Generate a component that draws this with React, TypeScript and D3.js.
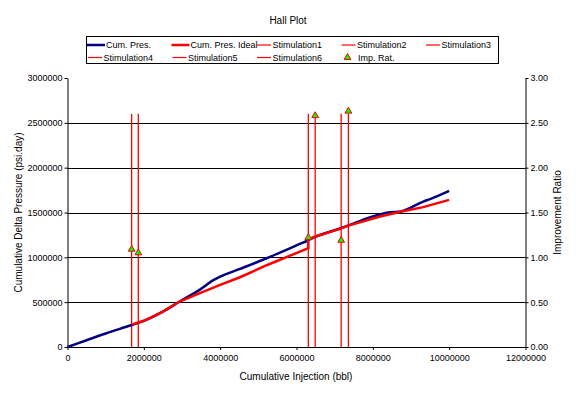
import React, { useEffect, useRef } from 'react';
import * as d3 from 'd3';

// Cum. Pres. (blue)
const presInj = [0, 500000, 1000000, 1680000, 2000000, 2500000, 2950000, 3470000, 3820000, 4000000, 4500000, 5220000, 6090000, 6280000, 6490000, 7140000, 7500000, 8000000, 8400000, 8760000, 9320000, 9500000, 10000000];
const presVal = [0, 75000, 150000, 245000, 292000, 395000, 510000, 640000, 745000, 785000, 868000, 990000, 1150000, 1185000, 1228000, 1322000, 1378000, 1455000, 1500000, 1515000, 1622000, 1650000, 1742000];

// Cum. Pres. Ideal (red)
const idealInj = [1680000, 2000000, 2500000, 2950000, 3470000, 4000000, 4520000, 5220000, 6090000, 6310000, 6310000, 6490000, 7140000, 7360000, 8190000, 8760000, 9320000, 10000000];
const idealVal = [250000, 292000, 395000, 510000, 600000, 692000, 778000, 912000, 1064000, 1102000, 1200000, 1232000, 1318000, 1354000, 1455000, 1511000, 1560000, 1641000];

// Stimulation1..6 vertical markers and improvement ratios
const stimNames = ['Stimulation1', 'Stimulation2', 'Stimulation3', 'Stimulation4', 'Stimulation5', 'Stimulation6'];
const stimInj = [1680000, 1855000, 6310000, 6490000, 7170000, 7360000];
const stimTop = 2600000;
const impRatio = [1.09, 1.05, 1.22, 2.58, 1.19, 2.63];

const xTicks = [0, 2000000, 4000000, 6000000, 8000000, 10000000, 12000000];
const yTicks = [0, 500000, 1000000, 1500000, 2000000, 2500000, 3000000];
const rTicks = [0, 0.5, 1, 1.5, 2, 2.5, 3];

const FONT = '"Liberation Sans", Arial, sans-serif';

const HallPlot: React.FC = () => {
  const ref = useRef<SVGSVGElement | null>(null);

  useEffect(() => {
    const width = 576;
    const height = 394;
    const svg = d3.select(ref.current)
      .attr('width', width)
      .attr('height', height)
      .style('position', 'absolute')
      .style('left', '0px')
      .style('top', '0px')
      .style('background', '#ffffff');
    svg.selectAll('*').remove();

    const x = d3.scaleLinear().domain([0, 12000000]).range([67.5, 525.5]);
    const y = d3.scaleLinear().domain([0, 3000000]).range([347, 78]);
    const yR = d3.scaleLinear().domain([0, 3]).range([347, 78]);

    // title
    svg.append('text')
      .attr('x', 288).attr('y', 24)
      .attr('text-anchor', 'middle')
      .attr('font-family', FONT).attr('font-size', 10)
      .text('Hall Plot');

    // gridlines
    svg.append('g')
      .selectAll('line')
      .data(yTicks.filter(d => d > 0 && d < 3000000))
      .join('line')
        .attr('x1', x(0)).attr('x2', x(12000000))
        .attr('y1', d => Math.round(y(d)) + 0.5).attr('y2', d => Math.round(y(d)) + 0.5)
        .attr('stroke', '#000').attr('stroke-width', 1);

    // axes
    const styleAxis = (g: d3.Selection<SVGGElement, unknown, null, undefined>) => {
      g.attr('font-family', FONT).attr('font-size', 9);
      g.selectAll('path, line').attr('stroke', '#000');
      g.selectAll('text').attr('fill', '#000');
    };

    svg.append('g')
      .attr('transform', `translate(${x(0)},0)`)
      .call(d3.axisLeft(y).tickValues(yTicks).tickFormat(d3.format('d')).tickSize(3).tickSizeOuter(0).tickPadding(2))
      .call(styleAxis);

    svg.append('g')
      .attr('transform', `translate(${x(12000000)},0)`)
      .call(d3.axisRight(yR).tickValues(rTicks).tickFormat(d3.format('.2f')).tickSize(3).tickSizeOuter(0).tickPadding(2))
      .call(styleAxis);

    svg.append('g')
      .attr('transform', `translate(0,${y(0)})`)
      .call(d3.axisBottom(x).tickValues(xTicks).tickFormat(d3.format('d')).tickSize(3).tickSizeOuter(0).tickPadding(5))
      .call(styleAxis);

    // axis titles
    svg.append('text')
      .attr('x', 296).attr('y', 380)
      .attr('text-anchor', 'middle')
      .attr('font-family', FONT).attr('font-size', 10)
      .text('Cumulative Injection (bbl)');

    svg.append('text')
      .attr('transform', `translate(22,${(y(0) + y(3000000)) / 2}) rotate(-90)`)
      .attr('text-anchor', 'middle')
      .attr('font-family', FONT).attr('font-size', 10)
      .text('Cumulative Delta Pressure (psi.day)');

    svg.append('text')
      .attr('transform', `translate(561,${(y(0) + y(3000000)) / 2}) rotate(-90)`)
      .attr('text-anchor', 'middle')
      .attr('font-family', FONT).attr('font-size', 10)
      .text('Improvement Ratio');

    // stimulation lines
    svg.append('g')
      .selectAll('line')
      .data(stimInj)
      .join('line')
        .attr('x1', d => x(d)).attr('x2', d => x(d))
        .attr('y1', y(0)).attr('y2', y(stimTop))
        .attr('stroke', '#ff0000').attr('stroke-width', 1.3);

    const line = d3.line<[number, number]>()
      .x(d => x(d[0]))
      .y(d => y(d[1]));

    svg.append('path')
      .datum(presInj.map((v, i) => [v, presVal[i]] as [number, number]))
      .attr('d', line.curve(d3.curveMonotoneX))
      .attr('fill', 'none')
      .attr('stroke', '#000080')
      .attr('stroke-width', 2.5);

    svg.append('path')
      .datum(idealInj.map((v, i) => [v, idealVal[i]] as [number, number]))
      .attr('d', line.curve(d3.curveLinear))
      .attr('fill', 'none')
      .attr('stroke', '#ff0000')
      .attr('stroke-width', 2.5);

    // improvement ratio markers
    const tri = d3.symbol().type(d3.symbolTriangle).size(20);
    svg.append('g')
      .selectAll('path')
      .data(stimInj.map((v, i) => [v, impRatio[i]] as [number, number]))
      .join('path')
        .attr('transform', d => `translate(${x(d[0])},${yR(d[1])})`)
        .attr('d', tri)
        .attr('fill', '#00ff00')
        .attr('stroke', '#ff0000')
        .attr('stroke-width', 1);

    // legend
    const legend = svg.append('g').attr('font-family', FONT).attr('font-size', 9);
    legend.append('rect')
      .attr('x', 86.5).attr('y', 36.5)
      .attr('width', 412).attr('height', 27)
      .attr('fill', '#fff').attr('stroke', '#000');

    type Entry = { name: string; kind: 'thick' | 'thin' | 'marker'; color: string };
    const entries: Entry[] = [
      { name: 'Cum. Pres.', kind: 'thick', color: '#000080' },
      { name: 'Cum. Pres. Ideal', kind: 'thick', color: '#ff0000' },
      ...stimNames.map(n => ({ name: n, kind: 'thin' as const, color: '#ff0000' })),
      { name: 'Imp. Rat.', kind: 'marker', color: '#ff0000' },
    ];

    entries.forEach((e, i) => {
      const col = i % 5;
      const row = Math.floor(i / 5);
      const x0 = 86 + col * 84.5;
      const cy = 45 + row * 12.5;
      const g = legend.append('g');
      if (e.kind === 'thick') {
        g.append('line').attr('x1', x0 + 1).attr('x2', x0 + 19).attr('y1', cy).attr('y2', cy)
          .attr('stroke', e.color).attr('stroke-width', 2.5);
        g.append('text').attr('x', x0 + 20).attr('y', cy + 3).text(e.name);
      } else if (e.kind === 'thin') {
        g.append('line').attr('x1', x0 + 2).attr('x2', x0 + 16).attr('y1', cy).attr('y2', cy)
          .attr('stroke', e.color).attr('stroke-width', 1.2);
        g.append('text').attr('x', x0 + 17.5).attr('y', cy + 3).text(e.name);
      } else {
        g.append('path').attr('transform', `translate(${x0 + 8},${cy})`).attr('d', tri)
          .attr('fill', '#00ff00').attr('stroke', e.color).attr('stroke-width', 1);
        g.append('text').attr('x', x0 + 18.5).attr('y', cy + 3).text(e.name);
      }
    });
  }, []);

  return <svg ref={ref}></svg>;
};

export default function App() {
  return <HallPlot />;
}
